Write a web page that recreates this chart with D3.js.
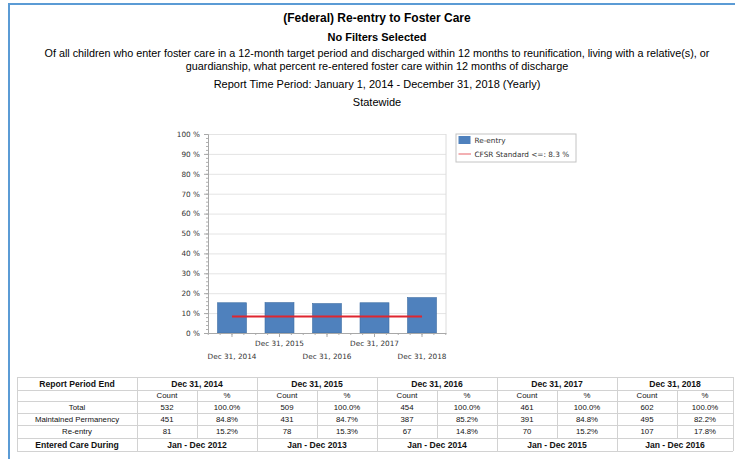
<!DOCTYPE html>
<html>
<head>
<meta charset="utf-8">
<script src="https://cdn.jsdelivr.net/npm/d3@7"></script>
<style>
  body { margin: 0; background: #fff; }
  svg { display: block; }
</style>
</head>
<body>
<div id="chart"></div>
<script>
// chart values
let periods = ['Dec 31, 2014', 'Dec 31, 2015', 'Dec 31, 2016', 'Dec 31, 2017', 'Dec 31, 2018'];
let reentryPct = [15.2, 15.3, 14.8, 15.2, 17.8];
let standardPct = 8.3;
let yTicks = [0, 10, 20, 30, 40, 50, 60, 70, 80, 90, 100];

// table values
let totalCount = [532, 509, 454, 461, 602];
let totalPct = ['100.0%', '100.0%', '100.0%', '100.0%', '100.0%'];
let maintainedCount = [451, 431, 387, 391, 495];
let maintainedPct = ['84.8%', '84.7%', '85.2%', '84.8%', '82.2%'];
let reentryCount = [81, 78, 67, 70, 107];
let reentryPctText = ['15.2%', '15.3%', '14.8%', '15.2%', '17.8%'];
let enteredCare = ['Jan - Dec 2012', 'Jan - Dec 2013', 'Jan - Dec 2014', 'Jan - Dec 2015', 'Jan - Dec 2016'];

let titleLines = [
  { text: '(Federal) Re-entry to Foster Care', y: 21.5, bold: true, size: 12 },
  { text: 'No Filters Selected', y: 40.5, bold: true, size: 11 },
  { text: 'Of all children who enter foster care in a 12-month target period and discharged within 12 months to reunification, living with a relative(s), or', y: 57, size: 10.8 },
  { text: 'guardianship, what percent re-entered foster care within 12 months of discharge', y: 69.5, size: 10.8 },
  { text: 'Report Time Period: January 1, 2014 - December 31, 2018 (Yearly)', y: 88, size: 11 },
  { text: 'Statewide', y: 106.2, size: 11 },
];

let W = 735, H = 459;
let plot = { left: 208, right: 446, top: 134, bottom: 333 };
let barColor = '#4f81bd';
let lineColor = '#e0262f';
let chartFont = 'DejaVu Sans, sans-serif';
let textFont = 'Liberation Sans, Arial, sans-serif';

const svg = d3.select('#chart').append('svg')
  .attr('width', W).attr('height', H);

// blue page frame
svg.append('rect').attr('x', 8).attr('y', 3).attr('width', W - 8).attr('height', 2).attr('fill', '#5b9bd5');
svg.append('rect').attr('x', 8).attr('y', 3).attr('width', 2).attr('height', H - 3).attr('fill', '#5b9bd5');

// headings
svg.append('g').selectAll('text')
  .data(titleLines)
  .join('text')
  .attr('x', 377)
  .attr('y', (d) => d.y)
  .attr('text-anchor', 'middle')
  .style('font-family', textFont)
  .style('font-size', (d) => d.size + 'px')
  .style('font-weight', (d) => (d.bold ? 'bold' : 'normal'))
  .attr('fill', '#000')
  .text((d) => d.text);

// scales
let x = d3.scaleBand()
  .domain(periods)
  .range([plot.left, plot.right])
  .paddingInner(0.39)
  .paddingOuter(0.2);

let y = d3.scaleLinear()
  .domain([0, 100])
  .range([plot.bottom, plot.top]);

// grid lines
svg.append('g')
  .attr('class', 'grid')
  .attr('transform', `translate(${plot.left},0)`)
  .call(d3.axisLeft(y).tickValues(yTicks.slice(1)).tickSize(-(plot.right - plot.left)).tickFormat(''))
  .call((g) => g.select('.domain').remove())
  .call((g) => g.selectAll('line').attr('stroke', '#e4e4e4'));

// right edge of plot
svg.append('line')
  .attr('x1', plot.right).attr('x2', plot.right)
  .attr('y1', plot.top).attr('y2', plot.bottom)
  .attr('stroke', '#dcdcdc');

// y minor ticks
svg.append('g')
  .attr('transform', `translate(${plot.left},0)`)
  .call(d3.axisLeft(y).tickValues(d3.range(0, 101, 2)).tickSize(2).tickFormat(''))
  .call((g) => g.select('.domain').remove())
  .call((g) => g.selectAll('line').attr('stroke', '#b0b0b0'));

// y axis
svg.append('g')
  .attr('class', 'y-axis')
  .attr('transform', `translate(${plot.left},0)`)
  .call(d3.axisLeft(y).tickValues(yTicks).tickSize(4).tickPadding(4).tickFormat((d) => d + ' %'))
  .call((g) => g.select('.domain').attr('stroke', '#a8a8a8'))
  .call((g) => g.selectAll('line').attr('stroke', '#a8a8a8'))
  .call((g) => g.selectAll('text')
    .style('font-family', chartFont)
    .style('font-size', '7.3px')
    .attr('fill', '#333'));

// bars
svg.append('g')
  .attr('class', 'bars')
  .selectAll('rect')
  .data(reentryPct)
  .join('rect')
  .attr('x', (d, i) => x(periods[i]))
  .attr('y', (d) => y(d))
  .attr('width', x.bandwidth())
  .attr('height', (d) => y(0) - y(d))
  .attr('fill', barColor)
  .attr('stroke', '#3f6ea3')
  .attr('stroke-width', 0.6);

// x axis minor ticks
let step = x.step();
let minorX = d3.range(0, 21).map((i) => x(periods[0]) + x.bandwidth() / 2 - step / 2 + i * step / 4)
  .filter((v) => v > plot.left && v < plot.right);
svg.append('g')
  .selectAll('line')
  .data(minorX)
  .join('line')
  .attr('x1', (d) => d).attr('x2', (d) => d)
  .attr('y1', plot.bottom).attr('y2', plot.bottom + 2)
  .attr('stroke', '#b0b0b0');

// x axis
svg.append('g')
  .attr('class', 'x-axis')
  .attr('transform', `translate(0,${plot.bottom})`)
  .call(d3.axisBottom(x).tickSize(4).tickSizeOuter(0))
  .call((g) => g.select('.domain').attr('stroke', '#a8a8a8'))
  .call((g) => g.selectAll('line').attr('stroke', '#a8a8a8'))
  .call((g) => g.selectAll('text')
    .style('font-family', chartFont)
    .style('font-size', '7.3px')
    .attr('fill', '#333')
    .attr('dy', null)
    .attr('y', (d, i) => (i % 2 === 1 ? 12.5 : 25.5)));

// standard line
svg.append('line')
  .attr('x1', x(periods[0]) + x.bandwidth() / 2)
  .attr('x2', x(periods[periods.length - 1]) + x.bandwidth() / 2)
  .attr('y1', y(standardPct))
  .attr('y2', y(standardPct))
  .attr('stroke', lineColor)
  .attr('stroke-width', 1.8);

// legend
let legend = svg.append('g').attr('transform', 'translate(456,134)');
legend.append('rect')
  .attr('width', 120).attr('height', 28)
  .attr('fill', '#fff').attr('stroke', '#c4c4c4');
legend.append('rect')
  .attr('x', 2.5).attr('y', 2).attr('width', 12).attr('height', 8)
  .attr('fill', barColor);
legend.append('line')
  .attr('x1', 2.5).attr('x2', 15).attr('y1', 20).attr('y2', 20)
  .attr('stroke', lineColor).attr('stroke-opacity', 0.6).attr('stroke-width', 1.2);
legend.selectAll('text.leg')
  .data(['Re-entry', 'CFSR Standard <=: ' + standardPct + ' %'])
  .join('text')
  .attr('class', 'leg')
  .attr('x', 18.5)
  .attr('y', (d, i) => 8.7 + i * 14)
  .style('font-family', chartFont)
  .style('font-size', '7.3px')
  .attr('fill', '#333')
  .text((d) => d);

// table
let tbl = { left: 17, top: 377, firstW: 120, subW: 60 };
let rowH = [13, 11, 12, 12, 13, 13];
let rowY = [tbl.top];
rowH.forEach((h) => rowY.push(rowY[rowY.length - 1] + h));
let tableRight = tbl.left + tbl.firstW + periods.length * 2 * tbl.subW - 4;
let border = '#d2d2d2';

let rows = [
  { label: 'Total', count: totalCount, pct: totalPct },
  { label: 'Maintained Permanency', count: maintainedCount, pct: maintainedPct },
  { label: 'Re-entry', count: reentryCount, pct: reentryPctText },
];

let tg = svg.append('g').attr('class', 'table');
let colX = (k) => Math.min(tbl.left + tbl.firstW + k * tbl.subW, tableRight);

// horizontal rules
tg.selectAll('line.h')
  .data(rowY)
  .join('line')
  .attr('x1', tbl.left).attr('x2', tableRight)
  .attr('y1', (d) => d + 0.5).attr('y2', (d) => d + 0.5)
  .attr('stroke', border);

// vertical rules
let vLines = [{ x: tbl.left, full: true }, { x: tableRight, full: true }];
for (let k = 0; k <= periods.length * 2; k++) {
  vLines.push({ x: colX(k), full: k % 2 === 0 });
}
tg.selectAll('line.v')
  .data(vLines)
  .join('line')
  .attr('x1', (d) => d.x + 0.5).attr('x2', (d) => d.x + 0.5)
  .attr('y1', (d) => (d.full ? rowY[0] : rowY[1]))
  .attr('y2', (d) => (d.full ? rowY[6] : rowY[5]))
  .attr('stroke', border);

let cell = (txt, cx, r, bold) => {
  tg.append('text')
    .attr('x', cx)
    .attr('y', rowY[r] + rowH[r] / 2)
    .attr('dy', '0.35em')
    .attr('text-anchor', 'middle')
    .style('font-family', textFont)
    .style('font-size', bold ? '8.6px' : '7.8px')
    .style('font-weight', bold ? 'bold' : 'normal')
    .attr('fill', '#111')
    .text(txt);
};

let firstCx = tbl.left + tbl.firstW / 2;
cell('Report Period End', firstCx, 0, true);
rows.forEach((row, ri) => cell(row.label, firstCx, ri + 2, false));
cell('Entered Care During', firstCx, 5, true);

periods.forEach((p, i) => {
  let gx = colX(2 * i);
  let gEnd = colX(2 * i + 2);
  cell(p, (gx + gEnd) / 2, 0, true);
  cell('Count', gx + tbl.subW / 2, 1, false);
  cell('%', (colX(2 * i + 1) + gEnd) / 2, 1, false);
  rows.forEach((row, ri) => {
    cell(row.count[i], gx + tbl.subW / 2, ri + 2, false);
    cell(row.pct[i], (colX(2 * i + 1) + gEnd) / 2, ri + 2, false);
  });
  cell(enteredCare[i], (gx + gEnd) / 2, 5, true);
});
</script>
</body>
</html>
